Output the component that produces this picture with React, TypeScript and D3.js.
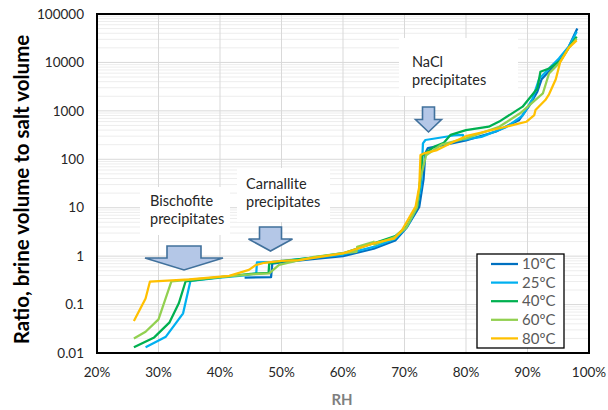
import React from "react";
import * as d3 from "d3";

const seriesNames = ["10ºC", "25ºC", "40ºC", "60ºC", "80ºC"];
const seriesColors = ["#0070C0", "#00B0F0", "#00B050", "#92D050", "#FFC000"];

const rh10 = [44.0, 48.3, 48.5, 50, 55, 60, 65, 68.5, 70.3, 72.4, 73.1, 73.4, 73.8, 76.7, 80, 84.8, 88.6, 90.2, 91.6, 92.3, 95.1, 96.7, 98.1];
const v10 = [0.36, 0.37, 0.70, 0.74, 0.87, 1.0, 1.42, 2.1, 3.8, 10.4, 39, 135, 170, 200, 245, 370, 640, 1220, 2480, 4500, 11000, 21000, 50000];

const rh25 = [27.9, 31.2, 34.0, 35.2, 40, 44, 45.9, 46.0, 48.5, 50, 55, 60, 65, 68.5, 70.5, 71.8, 72.7, 73.0, 73.4, 78, 79.5, 79.7, 82.5, 86.5, 89.2, 90.8, 91.9, 93.5, 95.1, 96.7, 98.0];
const v25 = [0.0131, 0.0217, 0.066, 0.31, 0.36, 0.40, 0.44, 0.74, 0.76, 0.80, 0.92, 1.08, 1.55, 2.3, 4.2, 8.9, 27, 213, 250, 310, 320, 255, 290, 460, 800, 1770, 4600, 7500, 12000, 21000, 43000];

const rh40 = [26.0, 29.3, 31.8, 33.3, 34.4, 40, 45, 47.9, 48.0, 50, 55, 60, 65, 68.5, 70.3, 72.1, 72.6, 72.9, 74.8, 76.4, 77.5, 80, 83.7, 85.4, 89.2, 91.6, 92.1, 93.5, 95.4, 96.7, 98.0];
const v40 = [0.0131, 0.021, 0.043, 0.106, 0.30, 0.37, 0.43, 0.45, 0.70, 0.78, 0.93, 1.15, 1.85, 2.6, 4.0, 10.5, 43, 121, 181, 220, 320, 400, 470, 600, 1220, 2900, 6400, 7500, 11000, 20000, 34000];

const rh60 = [26.0, 27.9, 30.0, 32.1, 40, 45, 48, 49.6, 55, 60, 62.2, 62.3, 65.0, 65.1, 68.5, 70.3, 72.0, 72.6, 73.5, 76, 80, 85.4, 88.8, 92.5, 93.5, 95.1, 96.7, 98.0];
const v60 = [0.020, 0.0275, 0.0496, 0.30, 0.37, 0.42, 0.44, 0.66, 0.95, 1.15, 1.23, 1.56, 1.98, 1.72, 2.5, 3.9, 10, 40, 121, 200, 270, 470, 890, 2300, 5900, 9500, 20000, 31000];

const rh80 = [26.0, 27.9, 28.6, 35, 41.5, 44.7, 45.8, 47.2, 50, 52.8, 60, 65.3, 68.3, 69.6, 71.8, 72.4, 72.6, 73.2, 75.3, 78, 80, 86.5, 89.8, 91.1, 91.3, 92.9, 93.5, 94.6, 95.3, 96.7, 98.0];
const v80 = [0.046, 0.134, 0.296, 0.33, 0.39, 0.52, 0.655, 0.73, 0.80, 0.83, 1.14, 1.89, 2.3, 3.46, 10.5, 27, 122, 133, 155, 230, 300, 470, 595, 820, 1040, 1670, 2200, 4500, 10000, 20000, 28500];

const seriesRH = [rh10, rh25, rh40, rh60, rh80];
const seriesV = [v10, v25, v40, v60, v80];

const xTicks = [20, 30, 40, 50, 60, 70, 80, 90, 100];
const yTicks = [0.01, 0.1, 1, 10, 100, 1000, 10000, 100000];
const yTickLabels = ["0.01", "0.1", "1", "10", "100", "1000", "10000", "100000"];

const annotations = [
  { lines: ["Bischofite", "precipitates"], box: [140, 187, 90, 48], tx: 150, ty: 206, arrow: [184, 246, 270], aw: [17, 39] },
  { lines: ["Carnallite", "precipitates"], box: [237, 168, 93, 54], tx: 246, ty: 189, arrow: [270.5, 227, 251], aw: [11, 22] },
  { lines: ["NaCl", "precipitates"], box: [399, 38, 119, 58], tx: 412, ty: 67, arrow: [428.5, 107, 132], aw: [6, 13] },
];

const FONT = "Lato, 'Open Sans', sans-serif";

export default function App() {
  const W = 608, H = 410;
  const left = 97, right = 589, top = 14, bottom = 353;
  const x = d3.scaleLinear().domain([20, 100]).range([left, right]);
  const y = d3.scaleLog().domain([0.01, 100000]).range([bottom, top]);

  const minor: number[] = [];
  for (let e = -2; e < 5; e++) {
    for (let k = 2; k <= 9; k++) minor.push(k * Math.pow(10, e));
  }

  const line = d3.line<[number, number]>().x((d) => x(d[0])).y((d) => y(d[1]));

  return (
    <svg width={W} height={H} style={{ position: "absolute", left: 0, top: 0, background: "#fff" }}>
      <rect x={0} y={0} width={W} height={H} fill="#fff" />
      {minor.map((m, i) => (
        <line key={"mi" + i} x1={left} x2={right} y1={y(m)} y2={y(m)} stroke="#ededed" strokeWidth={1} />
      ))}
      {yTicks.map((t, i) => (
        <line key={"my" + i} x1={left} x2={right} y1={y(t)} y2={y(t)} stroke="#d9d9d9" strokeWidth={1} />
      ))}
      {xTicks.map((t, i) => (
        <line key={"vx" + i} x1={x(t)} x2={x(t)} y1={top} y2={bottom} stroke="#d9d9d9" strokeWidth={1} />
      ))}
      {seriesRH.map((rh, si) => (
        <path
          key={"s" + si}
          d={line(rh.map((r, i) => [r, seriesV[si][i]] as [number, number])) || ""}
          fill="none"
          stroke={seriesColors[si]}
          strokeWidth={2.25}
          strokeLinejoin="round"
        />
      ))}
      <rect x={left} y={top} width={right - left} height={bottom - top} fill="none" stroke="#000" strokeWidth={2} />
      {annotations.map((a, i) => {
        const [cx, y0, tip] = a.arrow;
        const [hw, hh] = a.aw;
        const stemBottom = tip - (tip - y0) * 0.5;
        const pts = [
          [cx - hw, y0], [cx + hw, y0], [cx + hw, stemBottom], [cx + hh, stemBottom],
          [cx, tip], [cx - hh, stemBottom], [cx - hw, stemBottom],
        ];
        return (
          <g key={"a" + i}>
            <rect x={a.box[0]} y={a.box[1]} width={a.box[2]} height={a.box[3]} fill="#fff" />
            {a.lines.map((t, j) => (
              <text key={j} x={a.tx} y={a.ty + j * 18} fontFamily={FONT} fontSize={14.5} fill="#262626">{t}</text>
            ))}
            <polygon points={pts.map((p) => p.join(",")).join(" ")} fill="#B4C7E7" stroke="#41719C" strokeWidth={1.6} strokeLinejoin="miter" />
          </g>
        );
      })}
      {yTicks.map((t, i) => (
        <text key={"yl" + i} x={84} y={y(t)} dy="0.35em" textAnchor="end" fontFamily={FONT} fontSize={13.5} fill="#262626">{yTickLabels[i]}</text>
      ))}
      {xTicks.map((t, i) => (
        <text key={"xl" + i} x={x(t)} y={377} textAnchor="middle" fontFamily={FONT} fontSize={13.5} fill="#262626">{t + "%"}</text>
      ))}
      <text x={342} y={405} textAnchor="middle" fontFamily={FONT} fontWeight="bold" fontSize={15} fill="#7F7F7F">RH</text>
      <text transform={`translate(29,${(top + bottom) / 2 + 6}) rotate(-90)`} textAnchor="middle" fontFamily={FONT} fontWeight="bold" fontSize={20.5} fill="#000">Ratio, brine volume to salt volume</text>
      <rect x={477} y={254} width={87} height={94} fill="#fff" stroke="#000" strokeWidth={1.3} />
      {seriesNames.map((n, i) => {
        const ly = 264 + i * 18.6;
        return (
          <g key={"l" + i}>
            <line x1={491} x2={518} y1={ly} y2={ly} stroke={seriesColors[i]} strokeWidth={2.25} />
            <text x={522} y={ly} dy="0.35em" fontFamily={FONT} fontSize={15} fill="#595959">{n}</text>
          </g>
        );
      })}
    </svg>
  );
}
